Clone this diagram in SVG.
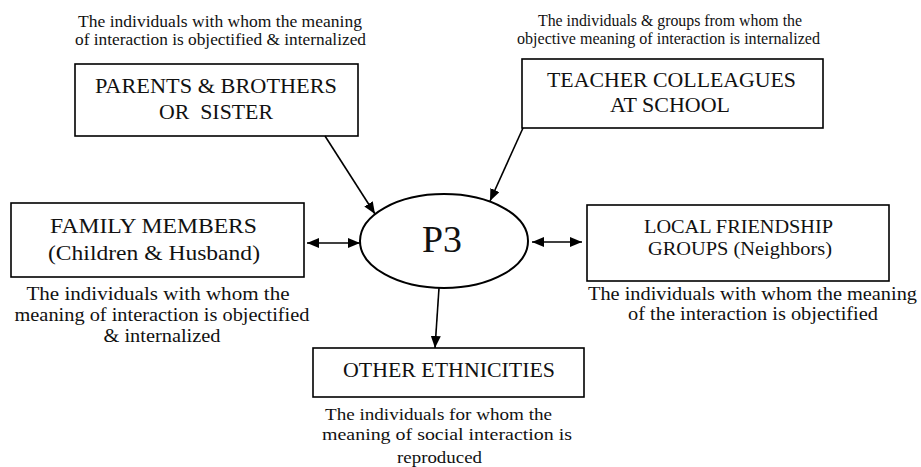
<svg xmlns="http://www.w3.org/2000/svg" width="921" height="467" viewBox="0 0 921 467" font-family="'Liberation Serif', 'Times New Roman', serif">
  <style>
    .box { fill: #fff; stroke: #000; stroke-width: 1.6; }
    .label { font-family: "Liberation Serif", "Times New Roman", serif; fill: #111; text-anchor: middle; }
    .edge { fill: none; stroke: #000; stroke-width: 1.6; }
  </style>
  <defs>
    <marker id="head" viewBox="0 0 12 10" refX="12" refY="5" markerWidth="12" markerHeight="10" markerUnits="userSpaceOnUse" orient="auto-start-reverse">
      <path d="M0,0 L12,5 L0,10 Z" fill="#000"/>
    </marker>
  </defs>
  <rect width="921" height="467" fill="#fff"/>

  <!-- Captions above the top boxes -->
  <g id="caption-parents" class="label" font-size="17">
    <text x="220" y="27" textLength="284" lengthAdjust="spacingAndGlyphs">The individuals with whom the meaning</text>
    <text x="220.5" y="45" textLength="291" lengthAdjust="spacingAndGlyphs">of interaction is objectified &amp; internalized</text>
  </g>
  <g id="caption-teachers" class="label" font-size="17">
    <text x="670" y="26" textLength="264" lengthAdjust="spacingAndGlyphs">The individuals &amp; groups from whom the</text>
    <text x="668.5" y="44" textLength="303" lengthAdjust="spacingAndGlyphs">objective meaning of interaction is internalized</text>
  </g>

  <!-- Nodes -->
  <g id="parents">
    <rect class="box" x="75" y="64" width="283" height="72"/>
    <g class="label" font-size="21">
      <text x="216" y="93" textLength="242" lengthAdjust="spacingAndGlyphs">PARENTS &amp; BROTHERS</text>
      <text x="216" y="119" textLength="114" lengthAdjust="spacingAndGlyphs" xml:space="preserve">OR  SISTER</text>
    </g>
  </g>

  <g id="teachers">
    <rect class="box" x="522" y="59" width="301" height="69"/>
    <g class="label" font-size="21">
      <text x="671.5" y="87" textLength="249" lengthAdjust="spacingAndGlyphs">TEACHER COLLEAGUES</text>
      <text x="670" y="112" textLength="120" lengthAdjust="spacingAndGlyphs">AT SCHOOL</text>
    </g>
  </g>

  <g id="family">
    <rect class="box" x="11" y="203" width="293" height="74"/>
    <g class="label" font-size="21">
      <text x="153.5" y="233" textLength="207" lengthAdjust="spacingAndGlyphs">FAMILY MEMBERS</text>
      <text x="154" y="260" textLength="212" lengthAdjust="spacingAndGlyphs">(Children &amp; Husband)</text>
    </g>
    <g class="label" font-size="19">
      <text x="158" y="300" textLength="263" lengthAdjust="spacingAndGlyphs">The individuals with whom the</text>
      <text x="162" y="321" textLength="295" lengthAdjust="spacingAndGlyphs">meaning of interaction is objectified</text>
      <text x="162" y="342" textLength="117" lengthAdjust="spacingAndGlyphs">&amp; internalized</text>
    </g>
  </g>

  <g id="p3">
    <ellipse cx="444" cy="241" rx="84" ry="47" fill="#fff" stroke="#000" stroke-width="2"/>
    <g class="label" font-size="38">
      <text x="442" y="252" textLength="40" lengthAdjust="spacingAndGlyphs">P3</text>
    </g>
  </g>

  <g id="local-friends">
    <rect class="box" x="587" y="205" width="302" height="76"/>
    <g class="label" font-size="18">
      <text x="738.5" y="233" textLength="189" lengthAdjust="spacingAndGlyphs">LOCAL FRIENDSHIP</text>
      <text x="740" y="255" textLength="184" lengthAdjust="spacingAndGlyphs">GROUPS (Neighbors)</text>
    </g>
    <g class="label" font-size="19">
      <text x="752.5" y="300" textLength="329" lengthAdjust="spacingAndGlyphs">The individuals with whom the meaning</text>
      <text x="753" y="320" textLength="250" lengthAdjust="spacingAndGlyphs">of the interaction is objectified</text>
    </g>
  </g>

  <g id="other-ethnicities">
    <rect class="box" x="313" y="348" width="271" height="49"/>
    <g class="label" font-size="20">
      <text x="449" y="377" textLength="212" lengthAdjust="spacingAndGlyphs">OTHER ETHNICITIES</text>
    </g>
    <g class="label" font-size="16">
      <text x="438.5" y="420" textLength="227" lengthAdjust="spacingAndGlyphs">The individuals for whom the</text>
      <text x="447" y="440" textLength="250" lengthAdjust="spacingAndGlyphs">meaning of social interaction is</text>
      <text x="439.5" y="463" textLength="85" lengthAdjust="spacingAndGlyphs">reproduced</text>
    </g>
  </g>

  <!-- Connectors -->
  <g id="connectors">
    <line class="edge" x1="325" y1="136" x2="375" y2="214" marker-end="url(#head)"/>
    <line class="edge" x1="523" y1="128" x2="490" y2="201" marker-end="url(#head)"/>
    <line class="edge" x1="307" y1="243" x2="360" y2="243" marker-start="url(#head)" marker-end="url(#head)"/>
    <line class="edge" x1="532" y1="242" x2="582" y2="242" marker-start="url(#head)" marker-end="url(#head)"/>
    <line class="edge" x1="439" y1="288" x2="435" y2="348" marker-end="url(#head)"/>
  </g>
</svg>
